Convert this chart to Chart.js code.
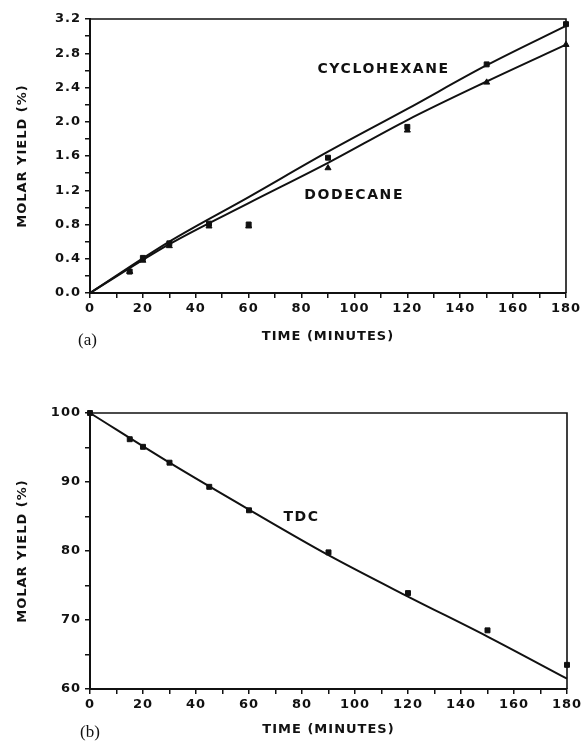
<!DOCTYPE html>
<html>
<head>
<meta charset="utf-8">
<title>Molar yield vs time</title>
<script src="https://cdn.jsdelivr.net/npm/chart.js@4.4.0/dist/chart.umd.min.js"></script>
<style>
    html, body { margin: 0; padding: 0; background: #fff; }
    #page { position: relative; width: 586px; height: 742px; }
    .panel { position: absolute; left: 0; width: 586px; }
    #panelA { top: 0; height: 360px; }
    #panelB { top: 380px; height: 362px; }
</style>
</head>
<body>
<div id="page">
    <div class="panel" id="panelA"><canvas id="chartA"></canvas></div>
    <div class="panel" id="panelB"><canvas id="chartB"></canvas></div>
</div>
<script>
// ============================================================
// DATA
// ============================================================
const sampleTimes = [15, 20, 30, 45, 60, 90, 120, 150, 180];

// (a) product yields
const cyclohexanePoints = [0.25, 0.41, 0.58, 0.81, 0.80, 1.58, 1.94, 2.67, 3.14];
const dodecanePoints    = [0.25, 0.38, 0.55, 0.78, 0.78, 1.46, 1.90, 2.46, 2.90];

// fitted curves for (a)
const fitTimes       = [0, 30, 60, 90, 120, 150, 180];
const cyclohexaneFit = [0, 0.60, 1.12, 1.65, 2.15, 2.66, 3.12];
const dodecaneFit    = [0, 0.57, 1.05, 1.52, 2.02, 2.47, 2.90];

// (b) TDC remaining
const tdcTimes  = [0, 15, 20, 30, 45, 60, 90, 120, 150, 180];
const tdcPoints = [100, 96.2, 95.1, 92.8, 89.3, 85.9, 79.8, 73.9, 68.5, 63.5];
const tdcFit    = [100, 92.8, 86.0, 79.4, 73.4, 67.6, 61.5];

// axis ranges
const timeRange = [0, 180];
const yieldRangeA = [0, 3.2];
const yieldRangeB = [60, 100];

// text labels placed at data coordinates [time, yield]
const labelsA = [
    { text: "CYCLOHEXANE", at: [86, 2.61] },
    { text: "DODECANE",    at: [81, 1.14] }
];
const labelsB = [
    { text: "TDC", at: [73, 84.9] }
];

// ============================================================
// CONFIGURATION
// ============================================================
const CONFIG = {
    INK: "#111",
    TICK_FONT: { family: "'DejaVu Sans', sans-serif", size: 13, weight: "bold" },
    TITLE_FONT: { family: "'DejaVu Sans', sans-serif", size: 13, weight: "bold" },
    LABEL_FONT: "bold 14px 'DejaVu Sans', sans-serif",
    PANEL_FONT: "17px 'Liberation Serif', serif"
};

Chart.defaults.color = CONFIG.INK;
Chart.defaults.animation = false;

function toXY(xs, ys) {
    return ys.map((y, i) => ({ x: xs[i], y: y }));
}

/** Draws top/right frame, text labels and the panel letter */
function framePlugin(labels, panelText, panelPos) {
    return {
        id: "frame",
        beforeDraw(chart) {
            chart.ctx.letterSpacing = "1px";
        },
        afterDraw(chart) {
            const c = chart.ctx;
            const a = chart.chartArea;
            const xs = chart.scales.x;
            const ys = chart.scales.y;

            c.save();
            c.strokeStyle = CONFIG.INK;
            c.lineWidth = 1.6;
            c.beginPath();
            c.moveTo(a.left, a.top);
            c.lineTo(a.right, a.top);
            c.lineTo(a.right, a.bottom);
            c.stroke();

            c.fillStyle = CONFIG.INK;
            c.font = CONFIG.LABEL_FONT;
            c.letterSpacing = "1.6px";
            c.textAlign = "left";
            c.textBaseline = "middle";
            labels.forEach(l => {
                c.fillText(l.text, xs.getPixelForValue(l.at[0]), ys.getPixelForValue(l.at[1]));
            });

            c.letterSpacing = "0px";
            c.font = CONFIG.PANEL_FONT;
            c.fillText(panelText, panelPos[0], panelPos[1]);
            c.restore();
        }
    };
}

function axisX() {
    return {
        type: "linear",
        min: timeRange[0],
        max: timeRange[1],
        border: { display: true, color: CONFIG.INK, width: 2 },
        grid: { drawOnChartArea: false, drawTicks: true, tickLength: 5, color: CONFIG.INK, lineWidth: 1.5 },
        ticks: {
            stepSize: 10,
            autoSkip: false,
            maxRotation: 0,
            padding: 3,
            font: CONFIG.TICK_FONT,
            callback: (v, i) => (i % 2 === 0 ? String(v) : "")
        },
        title: { display: true, text: "TIME (MINUTES)", font: CONFIG.TITLE_FONT, padding: { top: 4, bottom: 16 } }
    };
}

function axisY(range, step, digits, titlePad) {
    return {
        type: "linear",
        min: range[0],
        max: range[1],
        afterFit: s => { s.width = 90; },
        border: { display: true, color: CONFIG.INK, width: 2 },
        grid: { drawOnChartArea: false, drawTicks: true, tickLength: 5, color: CONFIG.INK, lineWidth: 1.5 },
        ticks: {
            stepSize: step,
            autoSkip: false,
            padding: 4,
            font: CONFIG.TICK_FONT,
            callback: (v, i) => (i % 2 === 0 ? v.toFixed(digits) : "")
        },
        title: { display: true, text: "MOLAR YIELD (%)", font: CONFIG.TITLE_FONT, padding: { top: titlePad, bottom: 0 } }
    };
}

function lineSet(xs, ys) {
    return {
        data: toXY(xs, ys),
        showLine: true,
        borderColor: CONFIG.INK,
        borderWidth: 2,
        pointRadius: 0,
        cubicInterpolationMode: "monotone",
        clip: false
    };
}

function markerSet(xs, ys, style, r) {
    return {
        data: toXY(xs, ys),
        showLine: false,
        pointStyle: style,
        pointRadius: r,
        backgroundColor: CONFIG.INK,
        borderColor: CONFIG.INK,
        borderWidth: 1,
        clip: false
    };
}

// ============================================================
// PANEL (a)
// ============================================================
new Chart(document.getElementById("chartA"), {
    type: "scatter",
    data: {
        datasets: [
            lineSet(fitTimes, cyclohexaneFit),
            lineSet(fitTimes, dodecaneFit),
            markerSet(sampleTimes, cyclohexanePoints, "rect", 3.5),
            markerSet(sampleTimes, dodecanePoints, "triangle", 3.5)
        ]
    },
    options: {
        responsive: true,
        maintainAspectRatio: false,
        layout: { padding: { top: 19, right: 20, left: 0, bottom: 0 } },
        plugins: { legend: { display: false }, tooltip: { enabled: false } },
        scales: {
            x: Object.assign(axisX(), { afterFit: s => { s.height = 67; } }),
            y: axisY(yieldRangeA, 0.2, 1, 15)
        }
    },
    plugins: [framePlugin(labelsA, "(a)", [78, 341])]
});

// ============================================================
// PANEL (b)
// ============================================================
const axisXB = axisX();
axisXB.afterFit = s => { s.height = 53; };
axisXB.title.padding = { top: 2, bottom: 5 };

new Chart(document.getElementById("chartB"), {
    type: "scatter",
    data: {
        datasets: [
            lineSet(fitTimes, tdcFit),
            markerSet(tdcTimes, tdcPoints, "rect", 3.5)
        ]
    },
    options: {
        responsive: true,
        maintainAspectRatio: false,
        layout: { padding: { top: 33, right: 19, left: 0, bottom: 0 } },
        plugins: { legend: { display: false }, tooltip: { enabled: false } },
        scales: {
            x: axisXB,
            y: axisY(yieldRangeB, 5, 0, 15)
        }
    },
    plugins: [framePlugin(labelsB, "(b)", [80, 353])]
});
</script>
</body>
</html>
